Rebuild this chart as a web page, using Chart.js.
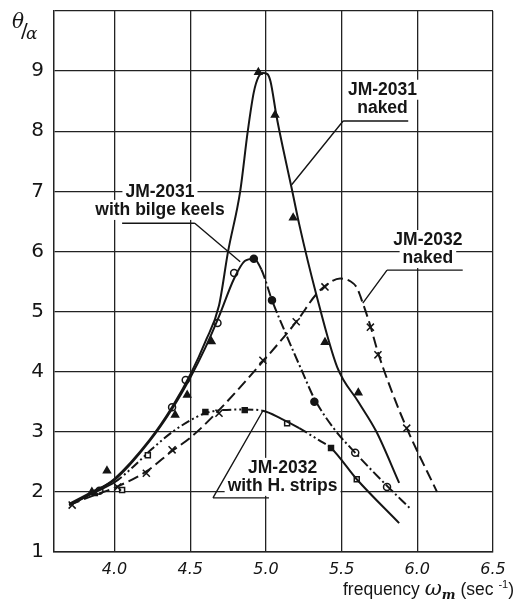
<!DOCTYPE html>
<html>
<head>
<meta charset="utf-8">
<script src="https://cdn.jsdelivr.net/npm/chart.js@4.4.1/dist/chart.umd.min.js"></script>
<style>
  html,body{margin:0;padding:0;background:#fff;}
  #wrap{width:524px;height:604px;}
</style>
</head>
<body>
<div id="wrap"><canvas id="c"></canvas></div>
<script>
// axis ticks
const xTicks = [4.0, 4.5, 5.0, 5.5, 6.0, 6.5];

// faired curves [frequency, theta/alpha]
const naked2031Curve = [[3.70,1.78],[3.85,1.98],[4.00,2.22],[4.23,2.86],[4.38,3.41],[4.51,4.00],[4.60,4.50],[4.69,5.10],[4.75,6.00],[4.83,7.00],[4.88,8.00],[4.92,8.65],[4.95,8.90],[4.98,8.97],[5.01,8.95],[5.03,8.83],[5.07,8.25],[5.11,7.75],[5.17,7.05],[5.22,6.45],[5.33,5.31],[5.47,4.08],[5.61,3.50],[5.73,3.00],[5.88,2.15]];
const bilge2031Curve = [[3.70,1.80],[3.85,2.00],[4.00,2.20],[4.23,2.84],[4.38,3.38],[4.50,3.90],[4.60,4.40],[4.69,4.92],[4.79,5.55],[4.86,5.84],[4.92,5.88],[4.97,5.70],[5.04,5.19],[5.14,4.58],[5.24,4.00],[5.32,3.55],[5.45,3.05],[5.59,2.65],[5.80,2.10],[5.95,1.73]];
const naked2032Curve = [[3.70,1.78],[3.85,1.93],[4.01,2.08],[4.21,2.34],[4.38,2.68],[4.50,2.90],[4.69,3.36],[4.99,4.20],[5.21,4.86],[5.33,5.28],[5.42,5.48],[5.49,5.55],[5.56,5.50],[5.60,5.40],[5.64,5.14],[5.69,4.76],[5.74,4.32],[5.83,3.68],[5.93,3.06],[6.13,2.00]];
const strips2032Curve = [[3.72,1.80],[3.85,1.97],[4.00,2.16],[4.12,2.41],[4.25,2.72],[4.40,3.03],[4.59,3.30],[4.71,3.36],[4.86,3.37],[4.98,3.35],[5.10,3.22],[5.22,3.06],[5.35,2.86],[5.43,2.73],[5.60,2.21],[5.88,1.48]];

// measured points
const naked2031Pts = [[3.85,2.00],[3.95,2.35],[4.40,3.28],[4.48,3.61],[4.64,4.50],[4.95,8.98],[5.06,8.27],[5.18,6.56],[5.39,4.49],[5.61,3.65]];
const bilge2031Open = [[3.90,2.02],[4.38,3.41],[4.47,3.86],[4.68,4.81],[4.79,5.64],[5.59,2.65],[5.80,2.08]];
const bilge2031Filled = [[4.92,5.88],[5.04,5.19],[5.32,3.50]];
const naked2032Pts = [[3.72,1.78],[4.02,2.08],[4.21,2.31],[4.38,2.70],[4.69,3.31],[4.98,4.19],[5.20,4.83],[5.39,5.41],[5.69,4.74],[5.74,4.28],[5.93,3.06]];
const strips2032Open = [[4.05,2.03],[4.22,2.61],[5.14,3.14],[5.60,2.21]];
const strips2032Filled = [[3.87,1.98],[4.60,3.33],[4.86,3.36],[5.43,2.73]];

const pts = a => a.map(p => ({x: p[0], y: p[1]}));
const INK = '#151515';

function curve(label, arr, dashFn) {
  return {
    label, data: pts(arr), showLine: true, pointRadius: 0,
    borderColor: INK, borderWidth: 2, cubicInterpolationMode: 'monotone',
    segment: dashFn ? {borderDash: dashFn} : undefined
  };
}
function marks(label, arr, style, filled, r) {
  return {
    label, data: pts(arr), showLine: false, pointStyle: style,
    pointRadius: r || 3.5, pointBorderWidth: 1.5, pointBorderColor: INK,
    pointBackgroundColor: filled ? INK : '#fff'
  };
}

const dashDot = [10, 3, 2, 3];
const dashDotDot = [9, 3, 2, 3, 2, 3];

const datasets = [
  curve('JM-2031 naked', naked2031Curve),
  curve('JM-2031 with bilge keels', bilge2031Curve, c => c.p0.parsed.x >= 4.95 ? dashDot : undefined),
  curve('JM-2032 naked', naked2032Curve, () => [11, 5]),
  curve('JM-2032 with H. strips', strips2032Curve, c => {
    const x = c.p0.parsed.x;
    return ((x >= 3.95 && x < 4.95) || (x >= 5.2 && x < 5.43)) ? dashDotDot : undefined;
  }),
  marks('JM-2031 naked pts', naked2031Pts, 'triangle', true, 4),
  marks('bilge open', bilge2031Open, 'circle', false),
  marks('bilge filled', bilge2031Filled, 'circle', true),
  marks('JM-2032 naked pts', naked2032Pts, 'crossRot', false, 5),
  marks('strips open', strips2032Open, 'rect', false),
  marks('strips filled', strips2032Filled, 'rect', true)
];

// text labels with leader lines (data coordinates)
const notes = [
  {lines: ['JM-2031', 'naked'], at: [5.77, 8.69], under: [5.51, 5.94, 8.17], to: [5.17, 7.11], from: 'left'},
  {lines: ['JM-2031', 'with bilge keels'], at: [4.30, 6.99], under: [4.05, 4.53, 6.47], to: [4.83, 5.83], from: 'right'},
  {lines: ['JM-2032', 'naked'], at: [6.07, 6.19], under: [5.80, 6.30, 5.69], to: [5.64, 5.14], from: 'left'},
  {lines: ['JM-2032', 'with H. strips'], at: [5.11, 2.40], under: [4.65, 5.02, 1.90], to: [4.98, 3.35], from: 'left'}
];

const notePlugin = {
  id: 'notes',
  afterDatasetsDraw(chart) {
    const {ctx, scales: {x, y}} = chart;
    ctx.save();
    ctx.font = 'bold 17.5px "Liberation Sans", Arial, sans-serif';
    ctx.textAlign = 'center';
    ctx.textBaseline = 'middle';
    notes.forEach(n => {
      const cx = x.getPixelForValue(n.at[0]);
      const cy = y.getPixelForValue(n.at[1]);
      n.lines.forEach((t, i) => {
        const w = ctx.measureText(t).width;
        ctx.fillStyle = '#fff';
        ctx.fillRect(cx - w / 2 - 3, cy + i * 18 - 10, w + 6, 20);
      });
      ctx.fillStyle = INK;
      n.lines.forEach((t, i) => ctx.fillText(t, cx, cy + i * 18));
      const ux0 = x.getPixelForValue(n.under[0]);
      const ux1 = x.getPixelForValue(n.under[1]);
      const uy = y.getPixelForValue(n.under[2]);
      const sx = n.from === 'left' ? ux0 : ux1;
      ctx.strokeStyle = INK;
      ctx.lineWidth = 1.4;
      ctx.beginPath();
      ctx.moveTo(ux0, uy);
      ctx.lineTo(ux1, uy);
      ctx.moveTo(sx, uy);
      ctx.lineTo(x.getPixelForValue(n.to[0]), y.getPixelForValue(n.to[1]));
      ctx.stroke();
    });
    ctx.restore();
  },
  afterDraw(chart) {
    const {ctx} = chart;
    ctx.save();
    ctx.fillStyle = INK;
    ctx.textBaseline = 'alphabetic';
    // y title
    ctx.font = 'italic 20px "DejaVu Serif", serif';
    ctx.fillText('θ', 12, 28);
    ctx.font = '20px "DejaVu Sans", sans-serif';
    ctx.fillText('/', 21, 37);
    ctx.font = 'italic 17px "DejaVu Serif", serif';
    ctx.fillText('α', 26, 39);
    // x title
    ctx.textAlign = 'left';
    let px = 343;
    const py = 595;
    const part = (t, font, dy) => {
      ctx.font = font;
      ctx.fillText(t, px, py + (dy || 0));
      px += ctx.measureText(t).width;
    };
    part('frequency ', '17.5px "Liberation Sans", Arial, sans-serif');
    part('ω', 'italic 21px "DejaVu Serif", serif');
    part('m', 'bold italic 13px "DejaVu Serif", serif', 4);
    part(' (sec ', '17.5px "Liberation Sans", Arial, sans-serif');
    part('-1', '11px "Liberation Sans", Arial, sans-serif', -7);
    part(')', '17.5px "Liberation Sans", Arial, sans-serif');
    ctx.restore();
  }
};

new Chart(document.getElementById('c'), {
  type: 'scatter',
  data: {datasets},
  options: {
    responsive: true,
    maintainAspectRatio: false,
    animation: false,
    events: [],
    layout: {padding: {top: 11, right: 31, left: 0, bottom: 0}},
    plugins: {legend: {display: false}, tooltip: {enabled: false}},
    scales: {
      x: {
        type: 'linear', min: 3.6, max: 6.5,
        afterBuildTicks: s => { s.ticks = xTicks.map(v => ({value: v})); },
        afterFit: s => { s.height = 52; s.paddingLeft = 0; s.paddingRight = 0; },
        grid: {color: '#222', lineWidth: 1.3, drawTicks: false},
        border: {color: '#222', width: 1.5},
        ticks: {
          padding: 8, color: INK,
          font: {family: '"DejaVu Sans", sans-serif', size: 16, style: 'italic'},
          callback: v => v.toFixed(1)
        }
      },
      y: {
        min: 1, max: 10,
        afterFit: s => { s.width = 54; s.paddingTop = 0; s.paddingBottom = 0; },
        grid: {color: '#222', lineWidth: 1.3, drawTicks: false},
        border: {color: '#222', width: 1.5},
        ticks: {
          stepSize: 1, padding: 10, color: INK,
          font: {family: '"DejaVu Sans", sans-serif', size: 20},
          callback: v => v === 10 ? '' : v
        }
      }
    }
  },
  plugins: [notePlugin]
});
</script>
</body>
</html>
